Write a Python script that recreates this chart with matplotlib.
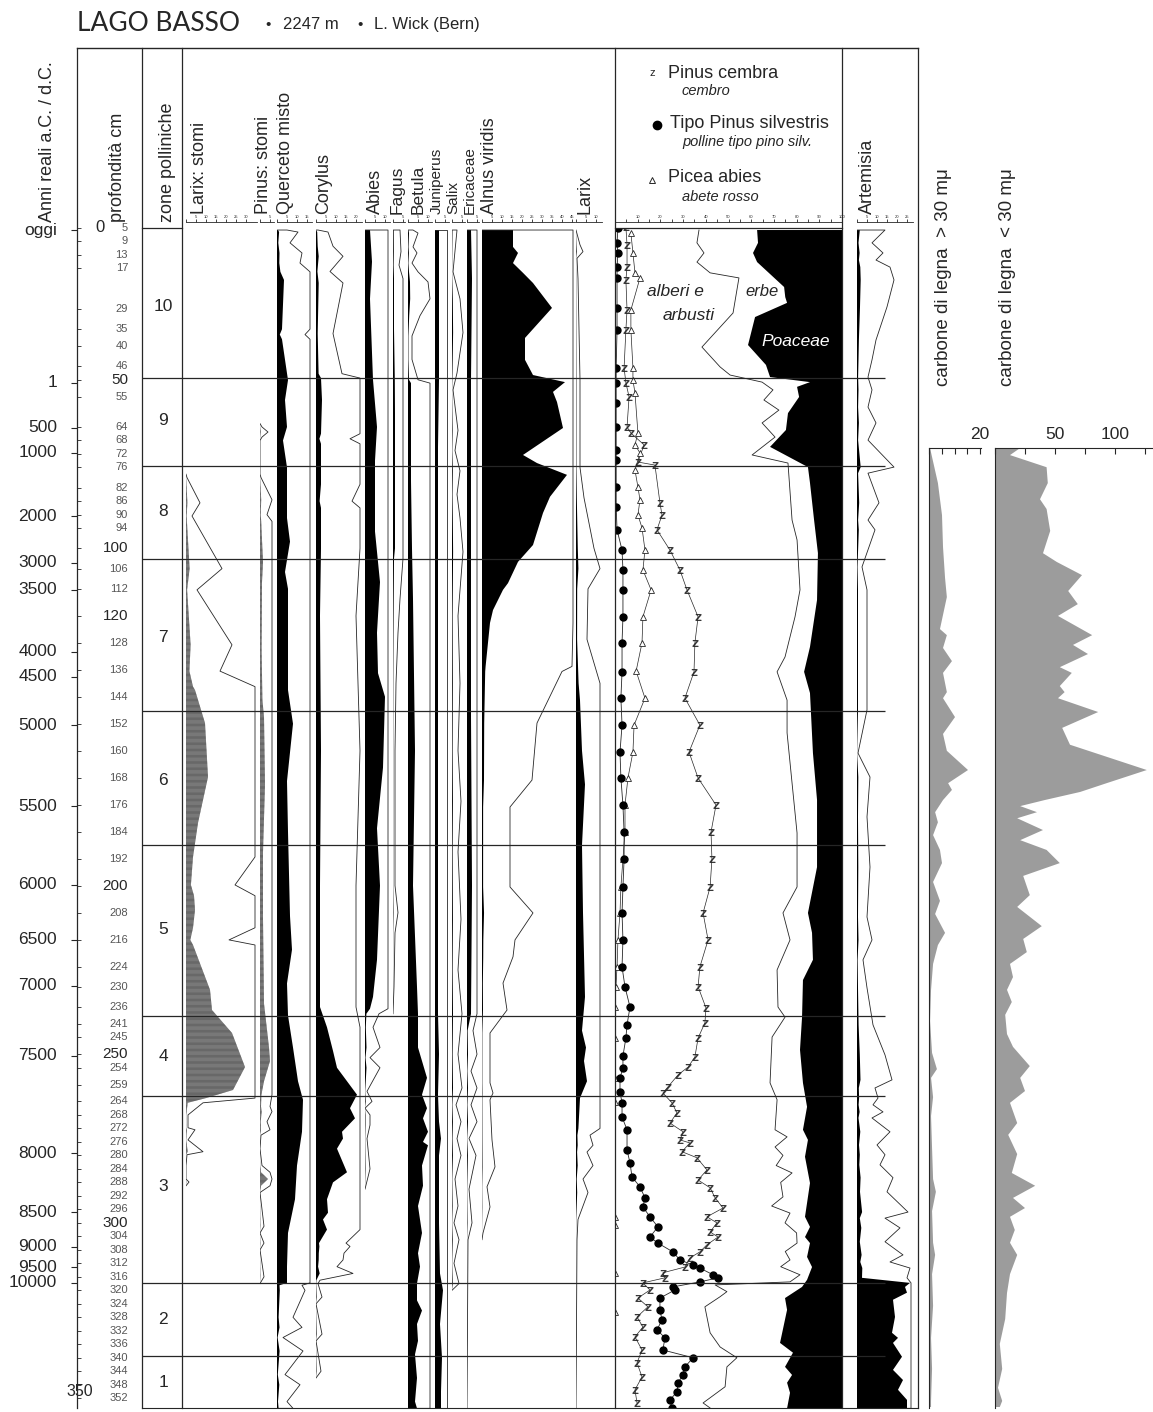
import numpy as np
import matplotlib.pyplot as plt
from matplotlib import font_manager

W, H = 1153, 1412
Y_TOP, Y_BOT = 228, 1408      # pixel rows of the first sample level and the core bottom
D_TOP, D_BOT = 5.0, 354.9     # depth (cm) at those rows
PX = 2.0                      # pixels per percent in the taxon columns
INK = '#262626'

# ---------------- depth / age / zones ----------------
depth_labels = [5, 9, 13, 17, 29, 35, 40, 46, 50, 55, 64, 68, 72, 76, 82, 86, 90, 94, 100, 106,
                112, 120, 128, 136, 144, 152, 160, 168, 176, 184, 192, 200, 208, 216, 224, 230,
                236, 241, 245, 250, 254, 259, 264, 268, 272, 276, 280, 284, 288, 292, 296, 300,
                304, 308, 312, 316, 320, 324, 328, 332, 336, 340, 344, 348, 352]
big_depths = [50, 100, 120, 200, 250, 300]

ages = ['oggi', '1', '500', '1000', '2000', '3000', '3500', '4000', '4500', '5000', '5500',
        '6000', '6500', '7000', '7500', '8000', '8500', '9000', '9500', '10000']
age_depths = [5.6, 50.9, 64.3, 71.7, 90.4, 104.3, 112.3, 130.7, 138.1, 152.4, 176.4, 199.8,
              216.1, 229.7, 250.5, 279.3, 296.8, 307.1, 313.1, 317.8]

zone_bounds = [49.5, 75.6, 103.1, 148.2, 188.0, 238.6, 262.4, 317.8, 339.5]
zone_names = ['10', '9', '8', '7', '6', '5', '4', '3', '2', '1']
zone_mid = [28.4, 62.2, 89.2, 126.3, 168.7, 213.1, 250.8, 289.3, 328.8, 347.4]

# ---------------- stomata ----------------
lstomi_d = [78, 79, 86.5, 90.4, 106, 112.3, 128.6, 136.4, 141, 142, 151.8, 167.8, 181.4, 191.5,
            199.8, 203, 207.2, 212.5, 216.1, 217.6, 230.9, 236.9, 243.7, 253.8, 260.6, 263,
            264.4, 268, 271.8, 272.4, 275.4, 278.9, 279.8, 283, 287, 287.9, 289]
lstomi_v = [0, 0.05, 0.7, 0.3, 1.8, 0.55, 2.3, 1.7, 3.5, 4.5, 9.5, 11, 6, 3.5, 2.45, 4, 4.5, 3.5,
            2.15, 3.5, 12, 13, 23, 29.5, 23.5, 10, 0.85, 0.1, 0.1, 0.45, 0.1, 0.85, 0.05, 0, 0,
            0.15, 0]

pstomi_d = [63, 64, 65.5, 67, 68, 78, 79, 85.6, 90, 92, 95, 104, 110, 130, 145, 150, 170, 190,
            210, 235, 248, 252, 258, 262, 265.5, 267, 270, 272.4, 274, 278, 283, 285, 287, 289,
            291, 301, 303, 306, 308, 316, 318]
pstomi_v = [0, 0.1, 0.4, 0.1, 0, 0, 0.05, 0.6, 0.35, 0.6, 0.8, 1.5, 1.0, 0.8, 1.2, 2, 2.5, 1.5,
            1.5, 2, 4.5, 5, 2, 0.7, 0.5, 0.85, 0.35, 0.5, 0.05, 0, 0.1, 0.5, 4, 0.5, 0, 0.2, 0,
            0.2, 0, 0.2, 0]

# ---------------- pollen taxa (%) ----------------
querceto_d = [5.6, 6.2, 9.4, 12.4, 15.4, 18, 20.4, 35, 36.6, 38, 50.1, 56, 64, 68, 76, 91, 98,
              107, 112, 142, 152, 169, 184, 209, 219, 229, 238.5, 248, 258, 263.5, 273, 283, 293,
              303, 313, 317.8, 318.5, 320, 328, 331, 334, 338, 345, 348, 353, 355]
querceto_v = [0.5, 1.05, 0.65, 1.25, 1.15, 1.7, 3.5, 2.5, 1.4, 2.5, 5.5, 4, 5, 3, 5, 5, 6.5, 4,
              5.5, 5.5, 8, 5, 5.5, 6.5, 7.5, 5, 5.5, 8, 10.5, 13, 12.5, 10, 9, 5.5, 5, 5, 1.25,
              1.4, 0.8, 1.25, 0.3, 1.3, 0.4, 1.15, 0.5, 0.8]

corylus_d = [5.6, 6.2, 10.4, 13.4, 17.9, 21.3, 36.3, 48.2, 49.5, 56, 66, 67.5, 69, 81, 86, 88,
             100, 120, 160, 200, 236, 242, 249, 254, 258, 262, 266, 269, 273, 275, 278, 285, 288,
             293, 297, 299, 302, 306, 307, 309, 311, 313, 315, 317, 318, 322, 324, 333, 335, 344,
             346, 355]
corylus_v = [0.1, 0.6, 0.85, 1.35, 0.7, 1.35, 0.85, 1.3, 2.5, 3, 2.5, 1.7, 2.5, 2.5, 1.8, 2.5,
             2.5, 2, 2.5, 2, 2, 5.5, 8.5, 10.5, 15.5, 20.5, 17, 19.5, 13, 13.5, 10.5, 15.5, 8.5,
             5.5, 6, 3.5, 5.5, 1.5, 1.7, 1.4, 1.35, 1.05, 1.85, 0.2, 0.1, 0.3, 0, 0.3, 0, 0.25,
             0, 0]

abies_d = [5.6, 15, 26, 50, 64, 74, 95, 110, 125, 137, 144, 165, 183, 200, 222, 233, 236.5, 238,
           242, 248, 251, 254, 261, 264, 266, 268, 271, 275, 284, 290, 355]
abies_v = [2.5, 3.5, 2.5, 4, 6, 5, 5, 7.5, 6, 6.5, 10, 9, 6, 7.5, 6, 4, 2.5, 0.7, 0.4, 0.75,
           0.25, 0.75, 0.1, 0.35, 0, 0.25, 0.25, 0.1, 0.25, 0, 0]

fagus_d = [5.6, 12, 16, 20, 35, 50, 60, 76, 100, 103, 115, 125, 140, 160, 190, 200, 208, 214,
           230, 238, 355]
fagus_v = [0.35, 0.4, 0.3, 0.5, 0.5, 0.9, 1, 1, 1, 0.5, 0.35, 0.25, 0.15, 0.1, 0.1, 0.1, 0.25,
           0.1, 0.05, 0, 0]

betula_d = [5.6, 6.5, 10.6, 12.4, 15.4, 18, 21, 26, 31, 37, 44, 50, 51, 60, 67, 80, 100, 115,
            160, 200, 230, 238, 248, 257, 262, 266, 269, 273, 276, 277, 283, 289, 295, 303, 309,
            313, 318, 323, 326, 330, 335, 339, 346, 353, 355]
betula_v = [0.25, 0.5, 0.25, 0.45, 0.2, 0.5, 1.0, 1.1, 0.6, 0.2, 0.2, 0.5, 1.5, 1.5, 1.5, 1.5,
            2, 2.5, 3.5, 2.5, 4.5, 5, 5, 9.5, 7, 9.5, 7.5, 10, 7.5, 10, 7, 7.5, 5, 7, 5, 6, 4.5,
            4.5, 7, 4.5, 5, 3.5, 4.5, 3.5, 4.5]

juniperus_d = [5.6, 50, 70, 100, 150, 200, 238, 250, 262, 270, 275, 280, 300, 315, 320, 330,
               340, 350, 355]
juniperus_v = [2, 2, 1.5, 1.5, 1.5, 1.5, 1.5, 2, 1.5, 2, 3, 2, 2, 2.5, 4, 2.5, 3.5, 3, 3]

salix_d = [5.6, 18, 26, 36, 48, 53, 65, 71, 77, 84, 91, 101, 120, 140, 160, 175, 190, 210, 225,
           238, 250, 260, 265, 270, 275, 280, 287, 295, 300, 305, 312, 318, 320, 355]
salix_v = [0.25, 0.05, 0.4, 0.55, 0.25, 0.05, 0.3, 0.15, 0.4, 0.25, 0.4, 0.55, 0.3, 0.4, 0.3,
           0.45, 0.3, 0.45, 0.3, 0.5, 0.3, 0.5, 0.2, 0.45, 0.25, 0.45, 0.15, 0.3, 0.1, 0.35, 0.1,
           0.35, 0, 0]

erica_d = [5.6, 20, 50, 100, 150, 200, 238, 243, 250, 255, 260, 265, 270, 275, 280, 290, 300,
           305, 355]
erica_v = [2, 2.5, 2, 2, 2, 2.5, 2, 0.3, 0.5, 0.2, 0.5, 0.2, 0.5, 0.1, 0.45, 0.1, 0.25, 0.05, 0]

alnus_d = [5.6, 10.6, 12.4, 15.4, 18.3, 21.3, 28.7, 37.6, 44.1, 48.6, 50.7, 53.6, 56.6, 64.3,
           72.3, 74.7, 78.2, 84.7, 89.5, 99, 104, 110.3, 112.3, 118.3, 122.1, 135, 136.5, 151.8,
           168.7, 176.7, 200.4, 208.1, 216.1, 221.1, 228.9, 236.9, 243.7, 258.5, 261.5, 263.5,
           275.4, 283.4, 289.3, 295.3, 303, 305]
alnus_v = [15.5, 15.5, 18, 15.5, 20.5, 25.5, 35, 21.5, 21.5, 25.5, 41.5, 35.5, 37.5, 40.5, 20.5,
           27.5, 42.5, 34, 30.5, 25.5, 18, 13, 10.5, 5.5, 4, 1.8, 1.6, 1.1, 1.0, 0.56, 0.56, 1.02,
           0.66, 0.62, 0.42, 0.5, 0.16, 0.16, 0.22, 0.16, 0.2, 0.26, 0.1, 0.16, 0.02, 0]

larix_d = [5.6, 10, 12, 14, 20, 50, 76, 85, 100, 106, 112, 127, 140, 145, 160, 170, 188, 208,
           233, 243, 248, 252, 258, 263, 272, 274, 277, 279, 283, 287, 291, 299, 305, 355]
larix_v = [0, 0.2, 0.35, 0.05, 0.1, 0.2, 0.2, 0.4, 0.9, 1.2, 0.6, 0.55, 1.3, 2, 3, 4.5, 3, 3.5,
           4.5, 3, 5, 4, 5.5, 2, 1.2, 0.7, 0.85, 0.55, 0.85, 0.35, 0.6, 0.1, 0.05, 0]

# ---------------- pine / sum diagram (% of total) ----------------
silv_d = [5, 9.4, 12.4, 16.6, 19.8, 28.7, 35.2, 46.5, 50.9, 56.9, 64, 70.8, 73.8, 81.8, 87.7,
          94.5, 100.5, 106.4, 112.3, 120.3, 128, 136.6, 144.4, 152.4, 160.4, 168.1, 176.1,
          184.1, 192.1, 200.4, 208.1, 216.1, 224.1, 230, 236, 241.3, 245.2, 250.5, 254.1, 257,
          261.2, 264.4, 268.6, 272.4, 278.4, 282.2, 286.4, 289.3, 292.6, 295.3, 298.2, 301.2,
          304.2, 306, 308.6, 311, 312.5, 313.4, 315.4, 316.3, 317.5, 319, 319.9, 322.3, 325.8,
          328.8, 331.7, 334.1, 337.7, 340, 342.7, 345.1, 347.4, 350.1, 352.5, 354.9]
silv_v = [1.3, 0.9, 1.3, 0.9, 0.9, 0.9, 0.9, 0.5, 0.5, 0.5, 0.5, 0.5, 0.5, 0.5, 0.5, 0.9, 3.1,
          3.5, 3.5, 3.5, 3.1, 3.1, 2.6, 3.1, 2.2, 2.6, 3.5, 4, 4, 3.5, 3.1, 3.5, 3.1, 4.4, 6.6,
          5.3, 4.8, 3.5, 3.5, 2.2, 2.2, 3.1, 3.1, 5.3, 5.3, 6.6, 7.5, 11, 13.2, 12.3, 15.4, 18.9,
          15.4, 18.9, 25.5, 28.6, 34.4, 37.4, 43.2, 45.4, 37.4, 25.5, 26.4, 19.8, 19.8, 20.7,
          18.5, 22, 21.1, 34.4, 30.8, 29.9, 27.8, 27.3, 24.2, 25.1]

picea_d = [6.5, 12.4, 18.3, 19.8, 29.3, 35.2, 46.5, 50.1, 53.9, 65.8, 69.3, 71.7, 76.8, 81.8,
           85.6, 90.1, 93.9, 100.5, 106.4, 112.3, 120.3, 128, 136.4, 144.4, 152.4, 160.4, 168.1,
           176.1, 184.1, 192.1, 200.4, 208.1, 216.1, 224.1, 230, 236, 245.2, 257, 264.1, 298.2,
           300.5, 314.8, 326.4]
picea_v = [7, 7.9, 8.8, 11, 7, 7, 7.9, 7.9, 8.8, 10.1, 8.8, 11, 8.8, 10.1, 11, 10.1, 11.9, 13.2,
           12.3, 15.9, 12.3, 11.9, 9.3, 13.2, 8.4, 7.9, 5.7, 4.4, 4.4, 3.5, 2.6, 2.2, 1.3, 0.9,
           0.4, 0, 0, 0, 0, 0, 0, 0, 0]

cembra_d = [4.7, 10, 16.6, 20.4, 29.3, 35.2, 46.5, 50.9, 55.1, 64, 65.8, 69.3, 74.4, 75.3, 86.5,
            90.1, 94.5, 100.5, 106.4, 112.3, 120.3, 128, 136.6, 144.4, 152.4, 160.4, 168.1,
            176.1, 184.1, 192.1, 200.4, 208.1, 216.1, 224.1, 230, 236.3, 240.7, 245.2, 250.8,
            253.8, 256.1, 259.7, 261.5, 264.4, 267.4, 270.4, 273, 275.4, 276.3, 278.9, 280.7,
            284.3, 287.3, 289.6, 292.6, 295.6, 298.2, 300, 302.7, 304.2, 306.5, 308.6, 310.4,
            313.1, 314.8, 316.3, 317.8, 319.9, 322.3, 324.9, 327.9, 330.9, 333.8, 337.7, 341.5,
            345.7, 349.5, 353.4]
cembra_v = [4.8, 5.3, 5.3, 4.8, 5.3, 4.8, 4, 4.8, 6.2, 5.3, 7, 12.8, 10.1, 17.6, 19.8, 20.7,
            18.5, 24.2, 28.6, 31.7, 36.6, 35.2, 34.8, 30.8, 37.4, 32.6, 36.6, 44.5, 42.3, 42.7,
            41.9, 38.8, 41, 37.4, 36.6, 40.1, 39.6, 36.6, 35.2, 32.2, 27.8, 23.3, 21.1, 25.1,
            27.3, 24.2, 30, 28.6, 33, 29.5, 36.1, 40.5, 36.6, 41.9, 44.1, 47.6, 40.5, 44.9, 41.9,
            45.4, 40.5, 37.4, 33, 30.8, 21.1, 22, 12.3, 15.4, 10.1, 14.5, 9.7, 12.3, 8.8, 11.9,
            9.7, 11.9, 8.8, 9.7]

# cumulative sum of all trees and shrubs
ap_d = [5.6, 9.4, 12.4, 15.1, 18.3, 19.8, 30.2, 40.3, 46.2, 48.6, 50.7, 53, 56, 59, 62.8, 67,
        72.3, 74.7, 91.6, 97.5, 112.3, 120.3, 132.2, 136.6, 145, 154.7, 169.6, 184.4, 200.4,
        208.1, 216.1, 225, 236, 239, 244.9, 258.5, 263.5, 272.4, 274.5, 277.5, 280, 283, 285.2,
        288, 292.3, 295, 297.1, 300, 303, 306, 308.5, 311, 313, 315.4, 317.5, 318.4, 320.4,
        321.9, 324.9, 332.6, 336.8, 340, 342.7, 348.6, 353.4, 354.9]
ap_v = [37, 36.1, 39.2, 36.1, 41.9, 54.6, 52, 38.3, 46.3, 50.7, 64.8, 69.6, 65.6, 72.2, 64.8,
        70.5, 60.4, 76.2, 78, 80.2, 81.5, 79.3, 74.9, 71.4, 75.8, 75.8, 78, 80.2, 80.2, 74, 77.1,
        71.4, 71.8, 74.9, 69.2, 68.3, 71.4, 70.5, 75.8, 70.5, 74, 71, 78, 73, 74, 69, 77.1, 74.9,
        80, 80.2, 75, 77.1, 73, 81.5, 77.1, 44.1, 49.3, 46.3, 39.6, 41.9, 46.3, 53.7, 49.3, 48.5,
        38.8, 41.9]

# cumulative sum up to the start of Poaceae (Poaceae fills the rest to 100 %)
poa_d = [5.6, 9.4, 12.4, 15.1, 22.5, 25.5, 27.2, 31.4, 39.7, 45.6, 49.2, 50.7, 52.1, 55.1, 59.9,
         64.9, 69.9, 75.9, 80.6, 91.6, 101.4, 115.3, 129.2, 136.6, 142.9, 160.7, 174.6, 194.5,
         208.1, 214, 222, 228, 239, 248.7, 258.5, 265.6, 272.4, 275.4, 280.4, 288.2, 298.2,
         301.2, 304.2, 306, 310.1, 313.1, 316.9, 319, 322.3, 325.8, 335.6, 338.5, 342.7, 345.1,
         347.4, 350.4, 355]
poa_v = [62.6, 63, 60.8, 62.6, 74.5, 75, 75.8, 61.7, 58.6, 66.5, 68.3, 85.9, 80.2, 81.1, 76.2,
         75.3, 68.3, 85, 85.9, 87.7, 89.4, 89, 85.9, 83.3, 85.9, 87.2, 89, 89, 85, 86.8, 87.2,
         82.8, 82.4, 81.5, 82.8, 84.6, 82.8, 85, 83.7, 85.9, 83.7, 85.9, 83.7, 85.9, 84.6, 86.8,
         84.6, 82.4, 74.9, 75.8, 72.7, 78.4, 74.9, 78, 75.8, 77.1, 75.8]

art_d = [5.6, 9.4, 12.4, 14.5, 16.6, 20.4, 28.4, 38.2, 44.1, 49.2, 53, 58.1, 62.8, 67.9, 75.9,
         77.7, 86.5, 91.6, 94.5, 105.5, 112.3, 147.9, 160.7, 167.8, 179.6, 194.5, 209.3, 216.1,
         222, 230.3, 241.3, 250.2, 257.6, 260, 263, 265, 267.1, 268.9, 273, 276.9, 279.8, 282.8,
         286.6, 290.8, 296.8, 298.6, 301.5, 305.6, 309.5, 311.6, 313.4, 316.3, 317.8, 319, 320.7,
         322.8, 327.9, 332.6, 334.1, 335.6, 339.7, 343.6, 346.6, 349.5, 352.5, 355]
art_v = [1.4, 0.75, 1.3, 0.95, 1.65, 1.85, 1.5, 0.95, 0.75, 0.55, 0.75, 0.55, 0.95, 0.55, 1.85,
         0.55, 1.1, 0.55, 0.9, 0.25, 0.5, 0.5, 0.05, 0.65, 0.5, 0.65, 0.5, 0.75, 0.3, 0.5, 0.8,
         1.4, 1.75, 0.9, 1.05, 0.8, 1.3, 0.75, 1.65, 1.0, 1.4, 1.15, 1.8, 1.5, 2.55, 1.4, 2.15,
         1.4, 2.3, 1.65, 2.65, 2.5, 26.5, 24, 25, 18, 19, 17.5, 20.5, 18, 22.5, 18, 23, 20.5, 25,
         25]

# ---------------- charcoal ----------------
char_gt_d = [70.2, 80.6, 90.1, 99.6, 108.8, 114.4, 123.9, 125.7, 129.5, 133.4, 136.9, 142.6,
             144.4, 150, 155, 160, 165.7, 169.6, 171.6, 174.6, 178.2, 181.2, 185, 189.4,
             193.3, 198.9, 204.5, 208.4, 214, 217.6, 223.2, 230.9, 240.1, 249.6, 254.4, 257,
             262.7, 268.3, 277.8, 287, 290.8, 296.5, 305.9, 309.5, 315.2, 324.6, 334.1, 343.3,
             352.8, 354.6]
char_gt_v = [0.4, 3.5, 5.1, 5.5, 6.3, 7, 4.3, 7, 5.5, 9, 5.5, 7, 5.5, 10.2, 5.5, 7, 15.3, 7.5,
             9, 5.5, 2.4, 3.5, 1.6, 4.3, 5.1, 1.6, 4.3, 2.4, 6.3, 3.5, 1.6, 0.8, 0.4, 1.2, 3.1,
             0.8, 1.6, 0.8, 1.2, 1.6, 2.7, 1.2, 1.6, 2.4, 1.2, 1.6, 0.8, 1.2, 0.8, 0.8]

char_lt_d = [70.2, 72.3, 75.9, 80.6, 85.4, 88.3, 94.8, 101.4, 104, 107.9, 112.6, 116.5, 120,
             125.7, 128.6, 131.3, 135.2, 136.9, 140.8, 142.6, 144.4, 148.5, 153.2, 158.2, 165.7,
             169.6, 172.2, 174.6, 176.4, 178.2, 180, 183.5, 186.5, 189.4, 193.3, 197.1, 202.8,
             206.3, 212, 215.8, 219.7, 223.2, 227.1, 230.9, 234.5, 238.3, 244, 247.8, 253.5, 257,
             260.9, 264.4, 270.4, 273.9, 279.6, 285.2, 289, 292.6, 295.6, 298.2, 302.1, 305.9,
             309.5, 315.2, 320.8, 328.5, 335.9, 343.3, 348.9, 352.8, 354.6]
char_lt_v = [21, 12.5, 43, 44, 37.5, 43, 46, 40, 51.5, 72.5, 61, 69, 52.5, 81, 65, 77.5, 54, 64,
             54, 58, 52.5, 86, 56, 62.5, 126.5, 93, 71, 41.5, 21, 35, 18.5, 40, 21, 43, 54, 23.5,
             29, 18.5, 39, 23.5, 26.5, 12.5, 15, 10, 14, 8.5, 10, 15, 29, 21, 25, 12.5, 18.5, 11,
             18.5, 14, 33.5, 15, 25, 12.5, 16.5, 12.5, 18.5, 12.5, 10, 8.5, 4, 6, 2.5, 6, 4]

# ---------------- setup ----------------
have = {f.name for f in font_manager.fontManager.ttflist}
SANS = 'Liberation Sans' if 'Liberation Sans' in have else 'DejaVu Sans'
TITLE = 'Lato' if 'Lato' in have else SANS
plt.rcParams['font.family'] = [SANS, 'DejaVu Sans']
plt.rcParams['hatch.linewidth'] = 0.5

fig = plt.figure(figsize=(W / 100, H / 100), dpi=100)


def box(x0, y0, x1, y1):
    return [x0 / W, 1 - y1 / H, (x1 - x0) / W, (y1 - y0) / H]


def depth_axes(x0, x1, y0=Y_TOP, y1=Y_BOT, d0=D_TOP, d1=D_BOT):
    ax = fig.add_axes(box(x0, y0, x1, y1))
    ax.set_ylim(d1, d0)
    ax.set_facecolor('none')
    for s in ax.spines.values():
        s.set_visible(False)
    ax.set_yticks([])
    ax.set_xticks([])
    return ax


def top_strip(ax, ticks, every=1):
    ax.xaxis.set_ticks_position('top')
    sp = ax.spines['top']
    sp.set_visible(True)
    sp.set_position(('outward', 4))
    sp.set_linewidth(0.6)
    sp.set_color(INK)
    ax.set_xticks(ticks)
    ax.set_xticklabels([f'{t:g}' if (i % every == 0 and t > 0) else ''
                        for i, t in enumerate(ticks)])
    ax.tick_params(axis='x', direction='out', length=2.5, width=0.6, labelsize=3,
                   pad=0.3, colors=INK)


def panel(base, clip, d, v, exag=10, hatch=False, step=5.0):
    d = np.asarray(d, float)
    v = np.asarray(v, float)
    ax = depth_axes(base, base + clip + 2)
    ax.set_xlim(0, (clip + 2) / PX)
    if hatch:
        ax.fill_betweenx(d, 0, v, facecolor='#a3a3a3', edgecolor='#4f4f4f',
                         hatch='-' * 14, lw=0)
    else:
        ax.fill_betweenx(d, 0, v, facecolor='black', lw=0)
    on = v > 0
    near = on | np.r_[on[1:], False] | np.r_[False, on[:-1]]
    ex = np.where(near, np.minimum(v * exag, clip / PX), np.nan)
    if on[0]:
        ex, d = np.r_[0, ex], np.r_[d[0], d]
    if on[-1]:
        ex, d = np.r_[ex, 0], np.r_[d, d[-1]]
    ax.plot(ex, d, color=INK, lw=0.6)
    top_strip(ax, np.arange(0, clip / PX + 0.01, step))
    return ax


# ---------------- taxon columns ----------------
panel(186, 69, lstomi_d, lstomi_v, hatch=True)
panel(260, 12, pstomi_d, pstomi_v, hatch=True)
panel(277, 33, querceto_d, querceto_v)
panel(316, 44, corylus_d, corylus_v)
panel(365, 23, abies_d, abies_v)
panel(393, 10, fagus_d, fagus_v)
panel(408, 22, betula_d, betula_v)
panel(435, 12, juniperus_d, juniperus_v)
panel(452, 11, salix_d, salix_v)
panel(467, 10, erica_d, erica_v)
panel(482, 91, alnus_d, alnus_v, exag=25)
panel(576, 24, larix_d, larix_v)
panel(857, 54, art_d, art_v)

# ---------------- pine / sum diagram ----------------
pine = depth_axes(615, 842)
pine.set_xlim(0, 100)
pine.fill_betweenx(poa_d, poa_v, 100, facecolor='black', lw=0)
pine.plot(ap_v, ap_d, color=INK, lw=0.6)
pine.plot(cembra_v, cembra_d, color=INK, lw=0.5, marker='$\\mathrm{z}$', ms=4.8,
          mec=INK, mfc=INK, mew=0.25)
pine.plot(picea_v, picea_d, color=INK, lw=0.5, marker='^', ms=3.8, mfc='white',
          mec=INK, mew=0.6)
pine.plot(silv_v, silv_d, color=INK, lw=0.6, marker='o', ms=5, mfc='black', mec='black')
top_strip(pine, np.arange(0, 101, 5), every=2)

# ---------------- charcoal ----------------
for x0, x1, dd, vv, scale, ticks, labels in [
        (929, 981, char_gt_d, char_gt_v, 2.55, [0, 5, 10, 15, 20], {20: '20'}),
        (995, 1152, char_lt_d, char_lt_v, 1.2, [0, 25, 50, 75, 100, 125], {50: '50', 100: '100'})]:
    ca = fig.add_axes(box(x0, 448, x1, Y_BOT))
    ca.set_ylim(D_BOT, 70.2)
    ca.set_xlim(0, (x1 - x0) / scale)
    ca.set_facecolor('none')
    ca.fill_betweenx(dd, 0, vv, facecolor='#9c9c9c', lw=0)
    for s in ('right', 'bottom'):
        ca.spines[s].set_visible(False)
    for s in ('left', 'top'):
        ca.spines[s].set_linewidth(0.8)
        ca.spines[s].set_color(INK)
    ca.set_yticks([])
    ca.xaxis.set_ticks_position('top')
    ca.set_xticks(ticks)
    ca.set_xticklabels([labels.get(t, '') for t in ticks])
    ca.tick_params(axis='x', direction='in', length=4, width=0.8, labelsize=12.5, pad=4,
                   colors=INK)

# ---------------- depth-scaled texts and lines ----------------
dax = depth_axes(0, W)
dax.set_xlim(0, W)
dax.hlines(zone_bounds, 142, 885, color=INK, lw=0.9)
for name, dm in zip(zone_names, zone_mid):
    dax.text(163, dm, name, ha='center', va='center', fontsize=12.5, color=INK)
for a, dm in zip(ages, age_depths):
    dax.text(57, dm, a, ha='right', va='center', fontsize=12.5, color=INK)
dax.hlines(age_depths, 71, 77, color=INK, lw=0.8)
dax.hlines(depth_labels, 77, 81, color=INK, lw=0.6)
for dl in depth_labels:
    big = dl in big_depths
    dax.text(128, dl, str(dl), ha='right', va='center', fontsize=11 if big else 8,
             color=INK if big else '#555555')
dax.text(100, 5, '0', ha='center', va='center', fontsize=12, color=INK)
dax.text(93, 350, '350', ha='right', va='center', fontsize=11.5, color=INK)

# ---------------- frame and header ----------------
ov = fig.add_axes([0, 0, 1, 1])
ov.set_xlim(0, W)
ov.set_ylim(H, 0)
ov.axis('off')
ov.plot([77, 918], [48, 48], color=INK, lw=1.0)
for x in (77, 142, 182, 615, 842, 918):
    ov.plot([x, x], [48, Y_BOT], color=INK, lw=0.9)
ov.plot([142, 182], [228, 228], color=INK, lw=0.9)
ov.plot([615, 842], [228, 228], color=INK, lw=0.9)
ov.plot([142, 918], [Y_BOT, Y_BOT], color=INK, lw=0.8)

ov.text(77, 31, 'LAGO BASSO', fontsize=19, family=TITLE, color=INK, va='baseline')
ov.text(268, 29, '•', fontsize=11, color=INK, ha='center', va='baseline')
ov.text(283, 29, '2247 m', fontsize=12, color=INK, va='baseline')
ov.text(360, 29, '•', fontsize=11, color=INK, ha='center', va='baseline')
ov.text(374, 29, 'L. Wick (Bern)', fontsize=12, color=INK, va='baseline')

head = [('Anni reali a.C. / d.C.', 48, 222, 13), ('profondità cm', 118, 222, 13),
        ('zone polliniche', 167, 222, 13), ('Larix: stomi', 200, 214, 13),
        ('Pinus: stomi', 264, 214, 13), ('Querceto misto', 286, 214, 13),
        ('Corylus', 324, 214, 13), ('Abies', 375, 214, 13), ('Fagus', 397, 214, 12.5),
        ('Betula', 418, 214, 12.5), ('Juniperus', 437, 214, 11), ('Salix', 453.5, 214, 11),
        ('Ericaceae', 469.5, 214, 11), ('Alnus viridis', 489, 214, 13),
        ('Larix', 585, 214, 13), ('Artemisia', 867, 214, 13)]
for txt, x, y, fs in head:
    ov.text(x, y, txt, rotation=90, ha='center', va='bottom', fontsize=fs, color=INK)
ov.text(943, 386, 'carbone di legna  > 30 mμ', rotation=90, ha='center', va='bottom',
        fontsize=13.5, color=INK)
ov.text(1008, 386, 'carbone di legna  < 30 mμ', rotation=90, ha='center', va='bottom',
        fontsize=13.5, color=INK)

# legend of the pine column
ov.text(652, 73, 'z', fontsize=8, ha='center', va='center', color=INK)
ov.text(668, 73, 'Pinus cembra', fontsize=13, va='center', color=INK)
ov.text(682, 91, 'cembro', fontsize=10.5, style='italic', va='center', color=INK)
ov.plot([657], [125], marker='o', ms=6, color='black')
ov.text(670, 123, 'Tipo Pinus silvestris', fontsize=13, va='center', color=INK)
ov.text(682, 142, 'polline tipo pino silv.', fontsize=10.5, style='italic', va='center',
        color=INK)
ov.plot([652], [180], marker='^', ms=4.5, mfc='white', mec=INK, mew=0.7)
ov.text(668, 178, 'Picea abies', fontsize=13, va='center', color=INK)
ov.text(682, 197, 'abete rosso', fontsize=10.5, style='italic', va='center', color=INK)

ov.text(647, 292, 'alberi e', fontsize=12.5, style='italic', va='center', color=INK)
ov.text(663, 316, 'arbusti', fontsize=12.5, style='italic', va='center', color=INK)
ov.text(745, 292, 'erbe', fontsize=12, style='italic', va='center', color=INK)
ov.text(761, 342, 'Poaceae', fontsize=12.5, style='italic', va='center', color='white')

fig.savefig('out.png', dpi=100)
